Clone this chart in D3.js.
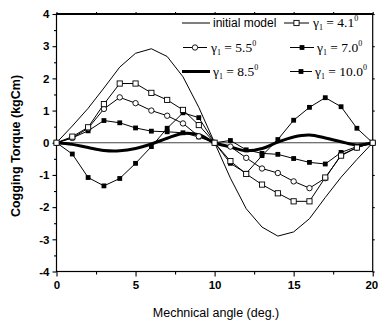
<!DOCTYPE html>
<html><head><meta charset="utf-8">
<script src="https://cdn.jsdelivr.net/npm/d3@7"></script>
<style>body{margin:0;background:#fff}svg{display:block}</style>
</head><body><svg id="c" width="378" height="322"></svg>
<script>
// ---- data ----
const angles   = [0,1,2,3,4,5,6,7,8,9,10,11,12,13,14,15,16,17,18,19,20];
const initialModel = [0,0.52,1.07,1.7,2.35,2.78,2.92,2.68,2.05,1.1,0,-1.1,-2.05,-2.62,-2.9,-2.77,-2.36,-1.7,-1.07,-0.52,0];
const gamma41  = [0,0.19,0.48,1.2,1.84,1.84,1.55,1.33,1.02,0.55,0,-0.57,-0.97,-1.3,-1.57,-1.82,-1.82,-1.08,-0.4,-0.15,0];
const gamma55  = [0,0.15,0.45,1.05,1.41,1.23,1.0,0.84,0.6,0.2,0,-0.12,-0.47,-0.8,-0.94,-1.2,-1.41,-1.1,-0.38,-0.15,0];
const gamma70  = [0,0.15,0.37,0.69,0.62,0.46,0.36,0.34,0.31,0.18,0,0.07,-0.22,-0.33,-0.36,-0.49,-0.61,-0.66,-0.3,-0.12,0];
const gamma85  = [0,-0.05,-0.15,-0.24,-0.25,-0.18,-0.04,0.14,0.29,0.25,0,-0.13,-0.25,-0.18,0.02,0.18,0.24,0.15,0.03,-0.07,0];
const gamma100 = [0,-0.35,-1.08,-1.34,-1.11,-0.64,-0.12,0.45,0.93,0.78,0,-0.64,-0.95,-0.4,0.1,0.7,1.1,1.4,1.12,0.45,0];
const xTicks = [0,5,10,15,20];
const xMinor = [2.5,7.5,12.5,17.5];
const yTicks = [-4,-3,-2,-1,0,1,2,3,4];
const yMinor = [-3.5,-2.5,-1.5,-0.5,0.5,1.5,2.5,3.5];
const seriesNames = ["initial model","4.1","5.5","7.0","8.5","10.0"];
const xLabel = "Mechnical angle (deg.)";
const yLabel = "Cogging Torque (kgCm)";

// ---- chart ----
const svg = d3.select("#c");
svg.append("rect").attr("width",378).attr("height",322).attr("fill","#fff");
const L=56.5, R=372.7, T=14, B=271.5;
const x = d3.scaleLinear().domain([0,20]).range([L,R]);
const y = d3.scaleLinear().domain([-4,4]).range([B,T]);
const font = "'Liberation Sans', Arial, sans-serif";
const serif = "'Liberation Serif', 'Times New Roman', serif";

// axes
const gx = svg.append("g").attr("transform",`translate(0,${B})`)
  .call(d3.axisBottom(x).tickValues(xTicks).tickSize(5).tickPadding(4).tickFormat(d3.format("d")));
const gxm = svg.append("g").attr("transform",`translate(0,${B})`)
  .call(d3.axisBottom(x).tickValues(xMinor).tickSize(3).tickFormat(""));
const gy = svg.append("g").attr("transform",`translate(${L},0)`)
  .call(d3.axisLeft(y).tickValues(yTicks).tickSize(4).tickPadding(3).tickFormat(d=>d<0?"-"+Math.abs(d):d));
const gym = svg.append("g").attr("transform",`translate(${L},0)`)
  .call(d3.axisLeft(y).tickValues(yMinor).tickSize(2.5).tickFormat(""));
const gt = svg.append("g").attr("transform",`translate(0,${T})`)
  .call(d3.axisTop(x).tickValues(xTicks.concat(xMinor)).tickSize(2).tickFormat(""));
const gr = svg.append("g").attr("transform",`translate(${R},0)`)
  .call(d3.axisRight(y).tickValues(yTicks).tickSize(2).tickFormat(""));
[gx,gxm,gy,gym,gt,gr].forEach(g=>{
  g.select(".domain").remove();
  g.selectAll("line").attr("stroke","#000").attr("stroke-width",1.1);
  g.selectAll("text").attr("font-family",font).attr("font-size",11.5).attr("font-weight","bold").attr("fill","#000");
});
// keep the last x tick label inside the window
gx.selectAll(".tick text").filter(d=>d===20).attr("text-anchor","end").attr("x",5);

// frame
svg.append("rect").attr("x",L).attr("y",T).attr("width",R-L).attr("height",B-T)
  .attr("fill","none").attr("stroke","#000").attr("stroke-width",1.2);
svg.append("line").attr("x1",L).attr("x2",R).attr("y1",T).attr("y2",T).attr("stroke","#000").attr("stroke-width",2);
// zero line
svg.append("line").attr("x1",L).attr("x2",R).attr("y1",y(0)).attr("y2",y(0)).attr("stroke","#444").attr("stroke-width",1);

// axis titles
svg.append("text").attr("x",216).attr("y",317).attr("text-anchor","middle")
  .attr("font-family",font).attr("font-size",12.5)
  .text(xLabel);
svg.append("text").attr("transform","translate(20,146) rotate(-90)").attr("text-anchor","middle")
  .attr("font-family",font).attr("font-size",12.5).attr("font-weight","bold").text(yLabel);

// series
const pts = arr => angles.map((a,i)=>[a,arr[i]]);
const lin = d3.line().x(d=>x(d[0])).y(d=>y(d[1]));
const smooth = d3.line().x(d=>x(d[0])).y(d=>y(d[1])).curve(d3.curveCatmullRom.alpha(0.5));
const plot = svg.append("g");
plot.append("path").datum(pts(initialModel)).attr("d",lin).attr("fill","none").attr("stroke","#000").attr("stroke-width",1);
plot.append("path").datum(pts(gamma85)).attr("d",smooth).attr("fill","none").attr("stroke","#000").attr("stroke-width",3);
const marked = [
  {data:gamma100, type:"fsq"},
  {data:gamma70, type:"fsq"},
  {data:gamma55, type:"oc"},
  {data:gamma41, type:"osq"}
];
marked.forEach(s=>{
  plot.append("path").datum(pts(s.data)).attr("d",lin).attr("fill","none").attr("stroke","#000").attr("stroke-width",1);
});
function marker(g,type,cx,cy){
  if(type==="osq") g.append("rect").attr("x",cx-2.6).attr("y",cy-2.6).attr("width",5.2).attr("height",5.2).attr("fill","#fff").attr("stroke","#000").attr("stroke-width",0.9);
  else if(type==="oc") g.append("circle").attr("cx",cx).attr("cy",cy).attr("r",2.7).attr("fill","#fff").attr("stroke","#000").attr("stroke-width",0.9);
  else g.append("rect").attr("x",cx-2.4).attr("y",cy-2.4).attr("width",4.8).attr("height",4.8).attr("fill","#000");
}
marked.forEach(s=>{
  pts(s.data).forEach(d=>marker(plot,s.type,x(d[0]),y(d[1])));
});

// legend
const leg = svg.append("g");
const legendItems = [
  {name:seriesNames[0], x1:182, x2:210, m:null, w:1, tx:213, ty:23, gamma:false},
  {name:seriesNames[1], x1:284, x2:309, m:"osq", w:1, tx:313, ty:23, gamma:true},
  {name:seriesNames[2], x1:183, x2:207, m:"oc", w:1, tx:211, ty:47.5, gamma:true},
  {name:seriesNames[3], x1:290, x2:314, m:"fsq", w:1, tx:317, ty:47.5, gamma:true},
  {name:seriesNames[4], x1:182, x2:210, m:null, w:3, tx:213, ty:71.5, gamma:true},
  {name:seriesNames[5], x1:290, x2:312, m:"fsq", w:1, tx:315, ty:71.5, gamma:true}
];
legendItems.forEach(it=>{
  leg.append("line").attr("x1",it.x1).attr("x2",it.x2).attr("y1",it.ty).attr("y2",it.ty).attr("stroke","#000").attr("stroke-width",it.w);
  if(it.m) marker(leg,it.m,(it.x1+it.x2)/2,it.ty);
  if(!it.gamma){
    leg.append("text").attr("x",it.tx).attr("y",it.ty+4).attr("font-family",font).attr("font-size",12).text(it.name);
  } else {
    const t = leg.append("text").attr("x",it.tx).attr("y",it.ty+4).attr("font-family",serif).attr("font-size",13.5);
    t.append("tspan").text("γ");
    t.append("tspan").attr("font-size",8).attr("dy",3).text("1");
    t.append("tspan").attr("dy",-3).text(" = " + it.name);
    t.append("tspan").attr("font-size",8).attr("dy",-6).text("0");
  }
});
</script></body></html>
